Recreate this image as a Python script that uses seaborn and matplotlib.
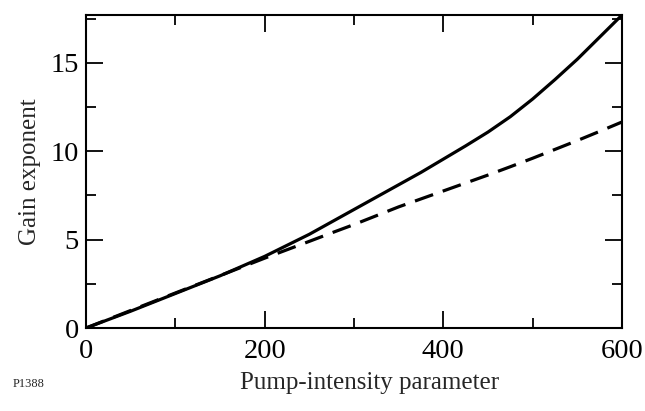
import matplotlib
matplotlib.use("Agg")
import matplotlib.pyplot as plt
import seaborn as sns
import pandas as pd
from matplotlib.ticker import MultipleLocator

# Data
pump = [0, 50, 100, 150, 200, 250, 275, 300, 325, 350, 375, 400, 425, 450, 475, 500, 525, 550, 575, 600]
gain_solid = [0, 0.95, 1.95, 2.95, 4.05, 5.3, 6.0, 6.7, 7.4, 8.1, 8.8, 9.55, 10.3, 11.08, 11.95, 12.95, 14.05, 15.2, 16.45, 17.7]
gain_dashed = [0, 0.99, 1.98, 2.96, 3.95, 4.9, 5.38, 5.85, 6.35, 6.85, 7.3, 7.75, 8.2, 8.65, 9.12, 9.6, 10.1, 10.6, 11.12, 11.65]
xticks = [0, 200, 400, 600]
yticks = [0, 5, 10, 15]

sns.set_style("ticks")
plt.rcParams['font.family'] = ['Liberation Serif', 'DejaVu Serif']

df = pd.DataFrame({"pump": pump, "solid": gain_solid, "dashed": gain_dashed})

fig = plt.figure(figsize=(6.45, 4.11), dpi=100)
ax = fig.add_axes([86/645, 1 - 328/411, (622-86)/645, (328-15)/411])

sns.lineplot(data=df, x="pump", y="solid", ax=ax, color="black", lw=2.3)
sns.lineplot(data=df, x="pump", y="dashed", ax=ax, color="black", lw=2.3)
ax.lines[1].set_dashes((6.0, 3.2))

ax.set_xlim(0, 600)
ax.set_ylim(0, 17.7)
ax.set_xticks(xticks)
ax.set_yticks(yticks)
ax.xaxis.set_minor_locator(MultipleLocator(100))
ax.yaxis.set_minor_locator(MultipleLocator(2.5))
ax.tick_params(which="both", direction="in", top=True, right=True, width=1.3, colors="black", labelsize=20.5)
ax.tick_params(which="major", length=12)
ax.tick_params(which="minor", length=7)
ax.tick_params(axis="x", which="major", pad=8)
ax.tick_params(axis="y", which="major", pad=5)
for s in ax.spines.values():
    s.set_linewidth(1.5)
    s.set_color("black")

ax.set_xlabel("")
ax.set_ylabel("Gain exponent", fontsize=18, labelpad=7)
fig.text(370/645, 1 - 383/411, "Pump-intensity parameter", fontsize=18, ha="center", va="center")
fig.text(13/645, 1 - 384/411, "P1388", fontsize=9, ha="left", va="center")

fig.savefig("out.png", dpi=100)
